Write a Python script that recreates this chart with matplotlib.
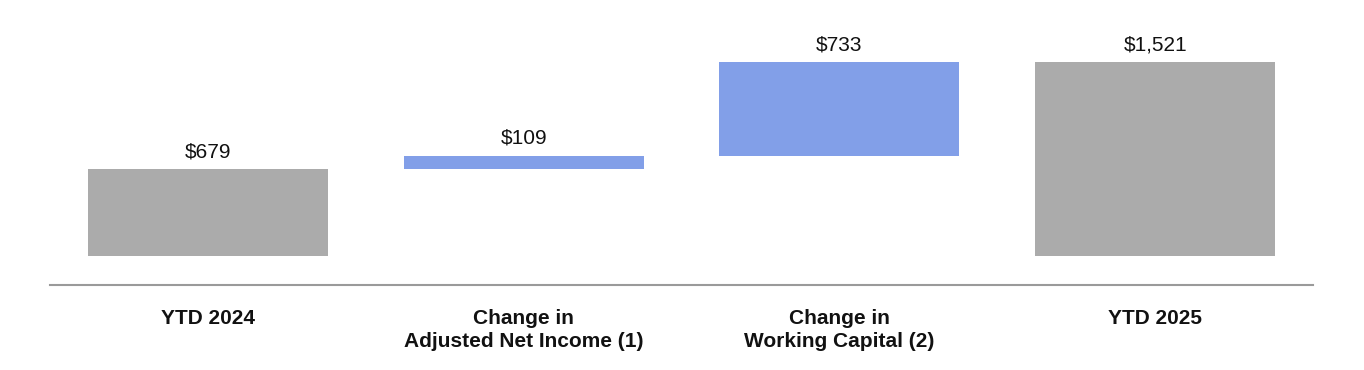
import matplotlib
matplotlib.use("Agg")
import matplotlib.pyplot as plt

categories = ["YTD 2024", "Change in\nAdjusted Net Income (1)", "Change in\nWorking Capital (2)", "YTD 2025"]
values = [679, 109, 733, 1521]
labels = ["$679", "$109", "$733", "$1,521"]
kinds = ["total", "delta", "delta", "total"]

plt.rcParams['font.family'] = ['Liberation Sans', 'DejaVu Sans']

fig = plt.figure(figsize=(13.64, 3.70), dpi=100)
ax = fig.add_axes([50/1364, 85/370, 1263/1364, 285/370])

gray = "#ababab"
blue = "#829fe8"

running = 0
for i, (v, k, lab) in enumerate(zip(values, kinds, labels)):
    if k == "total":
        bottom = 0
        top = v
        running = v
        color = gray
    else:
        bottom = running
        top = running + v
        running = top
        color = blue
    ax.bar(i, top - bottom, bottom=bottom, width=0.76, color=color, linewidth=0)
    ax.annotate(lab, (i, top), xytext=(0, 8.5), textcoords="offset points",
                ha="center", va="baseline", fontsize=15, color="#111111")
    ax.annotate(categories[i], (i, 0), xycoords=("data", "axes fraction"),
                xytext=(0, -17.5), textcoords="offset points",
                ha="center", va="top", fontsize=15, fontweight="bold",
                color="#111111", linespacing=1.25, multialignment="center")

ax.set_xlim(-0.5, 3.5)
ax.set_ylim(-227, 2008)
for s in ["top", "right", "left"]:
    ax.spines[s].set_visible(False)
ax.spines["bottom"].set_color("#9a9a9a")
ax.spines["bottom"].set_linewidth(1.5)
ax.set_xticks([])
ax.set_yticks([])
ax.patch.set_alpha(0)

fig.savefig("out.png", dpi=100)
